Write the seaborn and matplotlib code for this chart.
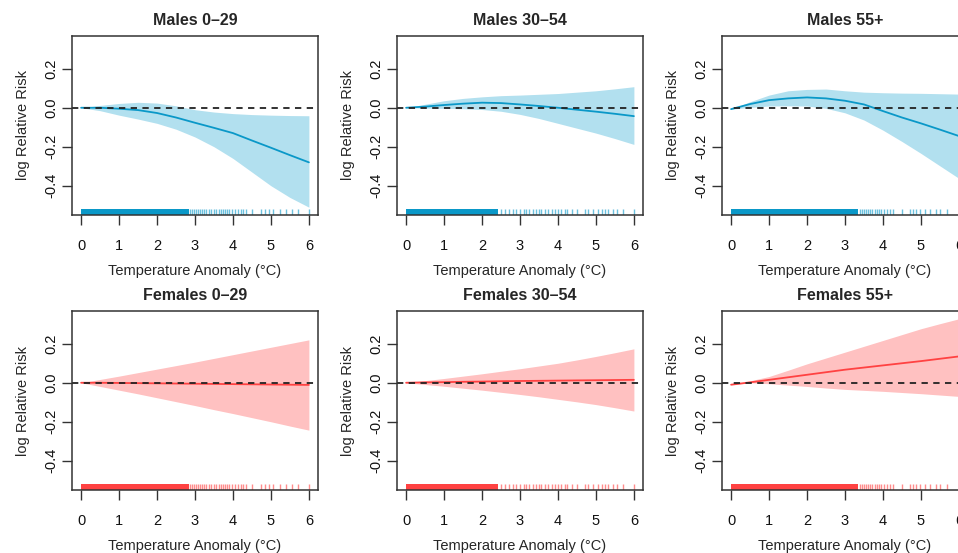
import numpy as np
import pandas as pd
import matplotlib
matplotlib.use("Agg")
import matplotlib.pyplot as plt
import seaborn as sns

# ---------------------------------------------------------
# data
# ---------------------------------------------------------
temp = [0, 0.5, 1, 1.5, 2, 2.5, 3, 3.5, 4, 4.5, 5, 5.5, 6]

m0_fit = [0, 0, -0.005, -0.012, -0.027, -0.05, -0.077, -0.103, -0.13, -0.168, -0.205, -0.243, -0.28]
m0_hi = [0, 0.012, 0.022, 0.028, 0.024, 0.01, -0.01, -0.022, -0.03, -0.035, -0.038, -0.04, -0.041]
m0_lo = [0, -0.015, -0.038, -0.058, -0.08, -0.11, -0.15, -0.2, -0.26, -0.33, -0.4, -0.46, -0.51]

m30_fit = [0, 0.006, 0.014, 0.021, 0.026, 0.024, 0.017, 0.009, 0, -0.01, -0.02, -0.031, -0.043]
m30_hi = [0, 0.018, 0.036, 0.048, 0.056, 0.062, 0.065, 0.069, 0.073, 0.08, 0.087, 0.097, 0.108]
m30_lo = [0, -0.002, -0.003, -0.005, -0.009, -0.018, -0.034, -0.055, -0.08, -0.105, -0.13, -0.158, -0.188]

m55_fit = [-0.007, 0.019, 0.039, 0.048, 0.053, 0.048, 0.036, 0.017, -0.017, -0.05, -0.08, -0.112, -0.145]
m55_hi = [-0.007, 0.031, 0.065, 0.087, 0.094, 0.096, 0.087, 0.08, 0.077, 0.075, 0.074, 0.072, 0.07]
m55_lo = [-0.007, 0.002, 0.009, 0.01, 0.009, -0.003, -0.026, -0.063, -0.115, -0.173, -0.234, -0.298, -0.362]

f0_fit = [0, 0, -0.001, -0.002, -0.003, -0.004, -0.005, -0.006, -0.007, -0.008, -0.009, -0.01, -0.011]
f0_hi = [0, 0.017, 0.034, 0.052, 0.07, 0.088, 0.106, 0.125, 0.144, 0.163, 0.182, 0.201, 0.22]
f0_lo = [0, -0.019, -0.038, -0.057, -0.077, -0.097, -0.117, -0.138, -0.158, -0.179, -0.2, -0.222, -0.243]

f30_fit = [0, 0.002, 0.003, 0.005, 0.006, 0.008, 0.009, 0.01, 0.011, 0.012, 0.013, 0.014, 0.015]
f30_hi = [0, 0.011, 0.022, 0.034, 0.046, 0.059, 0.072, 0.086, 0.1, 0.117, 0.135, 0.154, 0.174]
f30_lo = [0, -0.009, -0.018, -0.028, -0.038, -0.049, -0.06, -0.072, -0.085, -0.098, -0.112, -0.128, -0.145]

f55_fit = [-0.01, 0.002, 0.015, 0.028, 0.041, 0.054, 0.067, 0.078, 0.089, 0.1, 0.111, 0.123, 0.135]
f55_hi = [-0.01, 0.01, 0.032, 0.064, 0.097, 0.127, 0.157, 0.187, 0.217, 0.247, 0.277, 0.303, 0.328]
f55_lo = [-0.01, 0, -0.005, -0.012, -0.019, -0.027, -0.034, -0.039, -0.044, -0.05, -0.056, -0.063, -0.07]

# rug: dense block up to a value, then single observations
rug_dense_0 = 2.83
rug_ticks_0 = [2.88, 2.93, 2.98, 3.03, 3.08, 3.13, 3.18, 3.24, 3.3, 3.37, 3.42, 3.5, 3.55,
               3.62, 3.68, 3.75, 3.8, 3.85, 3.9, 3.97, 4.05, 4.12, 4.2, 4.27, 4.35, 4.5,
               4.75, 4.85, 4.95, 5.05, 5.25, 5.4, 5.55, 5.7, 6.0]
rug_dense_30 = 2.42
rug_ticks_30 = [2.5, 2.6, 2.7, 2.81, 2.9, 2.99, 3.1, 3.17, 3.25, 3.34, 3.43, 3.5, 3.56, 3.65,
                3.74, 3.83, 3.92, 4.0, 4.09, 4.18, 4.24, 4.36, 4.49, 4.71, 4.8, 4.93, 5.06,
                5.15, 5.24, 5.33, 5.46, 5.55, 5.72, 6.0]
rug_dense_55 = 3.35
rug_ticks_55 = [3.4, 3.45, 3.5, 3.55, 3.6, 3.66, 3.72, 3.78, 3.84, 3.9, 3.96, 4.03, 4.1,
                4.18, 4.26, 4.49, 4.7, 4.78, 4.88, 4.97, 5.1, 5.24, 5.41, 5.5, 5.68]

titles = ["Males 0\u201329", "Males 30\u201354", "Males 55+",
          "Females 0\u201329", "Females 30\u201354", "Females 55+"]
fits = [m0_fit, m30_fit, m55_fit, f0_fit, f30_fit, f55_fit]
highs = [m0_hi, m30_hi, m55_hi, f0_hi, f30_hi, f55_hi]
lows = [m0_lo, m30_lo, m55_lo, f0_lo, f30_lo, f55_lo]
rug_dense = [rug_dense_0, rug_dense_30, rug_dense_55]
rug_ticks = [rug_ticks_0, rug_ticks_30, rug_ticks_55]

# ---------------------------------------------------------
# style
# ---------------------------------------------------------
sns.set_style("ticks")
plt.rcParams['font.family'] = ['Liberation Sans', 'DejaVu Sans']
plt.rcParams['axes.edgecolor'] = '#333333'
plt.rcParams['xtick.color'] = '#333333'
plt.rcParams['ytick.color'] = '#333333'
plt.rcParams['xtick.labelcolor'] = '#111111'
plt.rcParams['ytick.labelcolor'] = '#111111'

blue_band, blue_line = '#b2e0ef', '#0a98c8'
red_band, red_line = '#ffc1c1', '#ff4242'

W, H = 958, 553
fig = plt.figure(figsize=(W / 100, H / 100), dpi=100)

col_left = [72, 397, 722]
row_top = [36, 311]
box_w, box_h = 246, 179

for i in range(6):
    r, c = divmod(i, 3)
    ax = fig.add_axes([col_left[c] / W, 1 - (row_top[r] + box_h) / H, box_w / W, box_h / H])
    band, line = (blue_band, blue_line) if r == 0 else (red_band, red_line)

    df = pd.DataFrame({'temp': temp, 'fit': fits[i], 'hi': highs[i], 'lo': lows[i]})
    ax.fill_between(df['temp'], df['lo'], df['hi'], color=band, lw=0)
    sns.lineplot(data=df, x='temp', y='fit', color=line, lw=1.3, ax=ax)
    ax.axhline(0, color='#222222', lw=1.3, ls=(0, (3.5, 3)))

    # rug
    ax.axvspan(0, rug_dense[c], ymin=0, ymax=0.033, color=line, lw=0)
    sns.rugplot(x=rug_ticks[c], height=0.033, color=line, alpha=0.6, lw=1.1, ax=ax)

    ax.set_xlim(-0.24, 6.24)
    ax.set_ylim(-0.55, 0.368)
    ax.set_xticks(range(7))
    ax.set_yticks([-0.4, -0.2, 0.0, 0.2])
    ax.set_yticklabels(['-0.4', '-0.2', '0.0', '0.2'], rotation=90, va='center')
    ax.tick_params(axis='both', length=7, width=1, labelsize=10.5)
    ax.tick_params(axis='x', pad=10)
    ax.tick_params(axis='y', pad=3)
    for s in ax.spines.values():
        s.set_linewidth(1.1)
        s.set_visible(True)
    ax.set_title(titles[i], fontsize=11.5, fontweight='bold', pad=8)
    ax.set_xlabel('Temperature Anomaly (\u00b0C)', fontsize=10.5, labelpad=8.5)
    ax.set_ylabel('log Relative Risk', fontsize=10.5, labelpad=10)

fig.savefig('out.png', dpi=100)
